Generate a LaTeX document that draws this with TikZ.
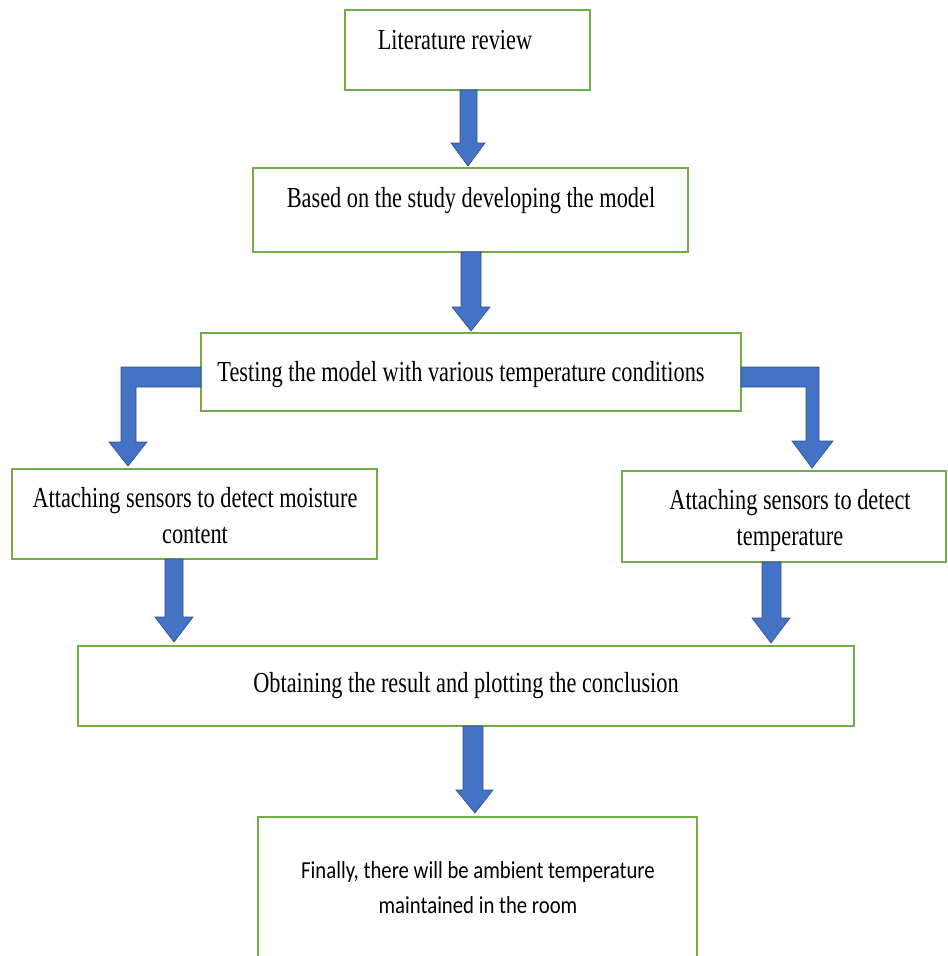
\documentclass[tikz,border=0pt]{standalone}
\usepackage{fontspec}
\setmainfont{Liberation Serif}
\newfontfamily\tnrfont[FakeStretch=0.77]{Liberation Serif}
\newfontfamily\calibrifont[FakeStretch=0.85]{Carlito}
\definecolor{boxgreen}{HTML}{70AD47}
\definecolor{arrowblue}{HTML}{4472C4}
\definecolor{arrowedge}{HTML}{2F528F}
\begin{document}
\begin{tikzpicture}[x=0.75pt,y=-0.75pt,
  box/.style={draw=boxgreen,line width=1.5pt,fill=white},
  serif/.style={anchor=base,align=center,inner sep=0pt,font=\tnrfont\fontsize{21.75}{26.8}\selectfont},
  sans/.style={anchor=base,align=center,inner sep=0pt,font=\calibrifont\fontsize{18.3}{26.25}\selectfont},
  blockarrow/.style={fill=arrowblue,draw=arrowedge,line width=0.5pt,line join=miter}]
\useasboundingbox (0,0) rectangle (948,956);
% boxes
\draw[box] (345,10) rectangle (590,90);
\draw[box] (253,168) rectangle (688,252);
\draw[box] (201,333) rectangle (741,411);
\draw[box] (12,469) rectangle (377,559);
\draw[box] (622,471) rectangle (946,562);
\draw[box] (78,646) rectangle (854,726);
\draw[box] (258,817) rectangle (697,970);
% texts (multi-line nodes are placed by the baseline of their last line)
\node[serif] (t1) at (455,50) {Literature review};
\node[serif] (t2) at (471,207) {Based on the study developing the model};
\node[serif] (t3) at (461,381) {Testing the model with various temperature conditions};
\node[serif] (t4) at (195,543) {Attaching sensors to detect moisture\\content};
\node[serif] (t5) at (790,545) {Attaching sensors to detect\\temperature};
\node[serif] (t6) at (466,692) {Obtaining the result and plotting the conclusion};
\node[sans] (t7) at (478,913) {Finally, there will be ambient temperature\\maintained in the room};
% arrows
\draw[blockarrow] (460,90) -- (477,90) -- (477,143) -- (485,143) -- (468,166) -- (451,143) -- (460,143) -- cycle;
\draw[blockarrow] (461,252) -- (481,252) -- (481,307) -- (490,307) -- (471,331) -- (452,307) -- (461,307) -- cycle;
\draw[blockarrow] (201,367) -- (121,367) -- (121,442) -- (109,442) -- (128,466) -- (147,442) -- (136,442) -- (136,387) -- (201,387) -- cycle;
\draw[blockarrow] (741,367) -- (819,367) -- (819,441) -- (833,441) -- (812,468) -- (792,441) -- (806,441) -- (806,387) -- (741,387) -- cycle;
\draw[blockarrow] (165,559) -- (183,559) -- (183,617) -- (193,617) -- (174,642) -- (155,617) -- (165,617) -- cycle;
\draw[blockarrow] (762,562) -- (781,562) -- (781,618) -- (790,618) -- (771,643) -- (752,618) -- (762,618) -- cycle;
\draw[blockarrow] (463,726) -- (483,726) -- (483,790) -- (493,790) -- (475,813) -- (456,790) -- (463,790) -- cycle;
\end{tikzpicture}
\end{document}
